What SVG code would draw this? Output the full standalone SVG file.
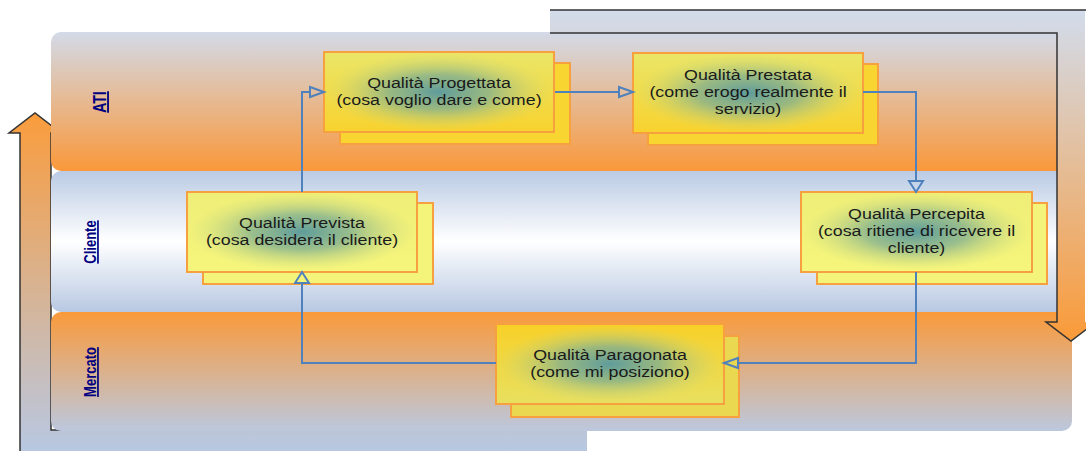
<svg xmlns="http://www.w3.org/2000/svg" width="1086" height="451" viewBox="0 0 1086 451">
<defs>
<style>
.lane-label{font-family:"Liberation Sans",Arial,sans-serif;font-weight:bold;fill:#000080;text-decoration:underline;text-anchor:middle}
.t{font-family:"Liberation Sans",Arial,sans-serif;font-size:15px;fill:#1a1a1a;text-anchor:middle}
.box{stroke:#F7A040;stroke-width:2}
.conn{fill:none;stroke:#4F81BD;stroke-width:2}
.edge{fill:none;stroke:#333;stroke-width:1.5}
</style>
<linearGradient id="gATI" x1="0" y1="0" x2="0" y2="1">
<stop offset="0" stop-color="#D3DAE8"/><stop offset="1" stop-color="#FA983A"/>
</linearGradient>
<linearGradient id="gCli" x1="0" y1="0" x2="0" y2="1">
<stop offset="0" stop-color="#BACBE4"/><stop offset="0.5" stop-color="#FFFFFF"/><stop offset="1" stop-color="#B8C8E2"/>
</linearGradient>
<linearGradient id="gMer" x1="0" y1="0" x2="0" y2="1">
<stop offset="0" stop-color="#FA9A3A"/><stop offset="1" stop-color="#BCC8DE"/>
</linearGradient>
<linearGradient id="gRightArrow" gradientUnits="userSpaceOnUse" x1="0" y1="10" x2="0" y2="341">
<stop offset="0" stop-color="#D2DCEC"/><stop offset="1" stop-color="#FA9A38"/>
</linearGradient>
<linearGradient id="gLeftArrow" gradientUnits="userSpaceOnUse" x1="0" y1="113" x2="0" y2="451">
<stop offset="0" stop-color="#FA9C3C"/><stop offset="1" stop-color="#B8C8E2"/>
</linearGradient>
<linearGradient id="gGold" x1="0" y1="0" x2="0" y2="1">
<stop offset="0" stop-color="#EAE668"/><stop offset="1" stop-color="#F8D22E"/>
</linearGradient>
<linearGradient id="gLight" x1="0" y1="0" x2="0" y2="1">
<stop offset="0" stop-color="#EEEE78"/><stop offset="1" stop-color="#F6F67C"/>
</linearGradient>
<linearGradient id="gMerBox" x1="0" y1="0" x2="0" y2="1">
<stop offset="0" stop-color="#F8D028"/><stop offset="1" stop-color="#E8E060"/>
</linearGradient>
<radialGradient id="gCore" cx="0.5" cy="0.5" r="0.5">
<stop offset="0" stop-color="#5E9C9C" stop-opacity="1"/>
<stop offset="0.45" stop-color="#7EAE92" stop-opacity="0.75"/>
<stop offset="1" stop-color="#C8D880" stop-opacity="0"/>
</radialGradient>
<marker id="ah" markerUnits="userSpaceOnUse" markerWidth="16" markerHeight="12" refX="0" refY="6" orient="auto" overflow="visible">
<path d="M0,1 L14,6 L0,11 Z" fill="none" stroke="#4F81BD" stroke-width="2"/>
</marker>
<marker id="av" markerUnits="userSpaceOnUse" markerWidth="14" markerHeight="16" refX="0" refY="7" orient="auto" overflow="visible">
<path d="M0,0 L11,7 L0,14 Z" fill="none" stroke="#4F81BD" stroke-width="2"/>
</marker>
</defs>

<g id="left-arrow">
<path d="M20,460 V133 H9 L35,113 L61,133 H51 V430 H587 V460 Z" fill="url(#gLeftArrow)"/>
<path d="M20,460 V133 H9 L35,113 L61,133 H51 V430 H587" class="edge"/>
</g>

<g id="lane-ati">
<rect x="51" y="32" width="1021" height="139" rx="10" fill="url(#gATI)"/>
<text class="lane-label" font-size="14" transform="translate(106,102) scale(1.3,1) rotate(-90)">ATI</text>
</g>
<g id="lane-cliente">
<rect x="51" y="171" width="1021" height="141" rx="10" fill="url(#gCli)"/>
<text class="lane-label" font-size="13" transform="translate(96,242) scale(1.3,1) rotate(-90)">Cliente</text>
</g>
<g id="lane-mercato">
<rect x="51" y="312" width="1021" height="119" rx="10" fill="url(#gMer)"/>
<text class="lane-label" font-size="13" transform="translate(96,372) scale(1.3,1) rotate(-90)">Mercato</text>
</g>

<g id="right-arrow">
<path d="M550,10 H1085 V322 H1096 L1071,341 L1046,322 H1057 V33 H550 Z" fill="url(#gRightArrow)"/>
<path d="M550,10 H1090 M550,33 H1057 V322 H1046 L1071,341 L1096,322" class="edge"/>
</g>

<g id="node-progettata">
<rect x="340" y="63" width="230" height="81" fill="#F8D530" class="box"/>
<rect x="324" y="52" width="230" height="80" fill="url(#gGold)" class="box"/>
<rect x="325" y="53" width="228" height="78" fill="url(#gCore)"/>
<text class="t" transform="translate(439,0) scale(1.19,1)"><tspan x="0" y="88">Qualità Progettata</tspan><tspan x="0" y="105">(cosa voglio dare e come)</tspan></text>
</g>

<g id="node-prestata">
<rect x="648" y="64" width="230" height="81" fill="#F8D530" class="box"/>
<rect x="633" y="53" width="230" height="80" fill="url(#gGold)" class="box"/>
<rect x="634" y="54" width="228" height="78" fill="url(#gCore)"/>
<text class="t" transform="translate(748,0) scale(1.19,1)"><tspan x="0" y="80">Qualità Prestata</tspan><tspan x="0" y="97">(come erogo realmente il</tspan><tspan x="0" y="114">servizio)</tspan></text>
</g>

<g id="node-prevista">
<rect x="203" y="203" width="230" height="81" fill="#F4F37A" class="box"/>
<rect x="187" y="192" width="230" height="80" fill="url(#gLight)" class="box"/>
<rect x="188" y="193" width="228" height="78" fill="url(#gCore)"/>
<text class="t" transform="translate(302,0) scale(1.19,1)"><tspan x="0" y="228">Qualità Prevista</tspan><tspan x="0" y="245">(cosa desidera il cliente)</tspan></text>
</g>

<g id="node-percepita">
<rect x="817" y="203" width="230" height="81" fill="#F4F37A" class="box"/>
<rect x="801" y="192" width="231" height="80" fill="url(#gLight)" class="box"/>
<rect x="802" y="193" width="229" height="78" fill="url(#gCore)"/>
<text class="t" transform="translate(916.5,0) scale(1.19,1)"><tspan x="0" y="219">Qualità Percepita</tspan><tspan x="0" y="236">(cosa ritiene di ricevere il</tspan><tspan x="0" y="253">cliente)</tspan></text>
</g>

<g id="node-paragonata">
<rect x="511" y="336" width="228" height="81" fill="#EAD850" class="box"/>
<rect x="496" y="324" width="228" height="80" fill="url(#gMerBox)" class="box"/>
<rect x="497" y="325" width="226" height="78" fill="url(#gCore)"/>
<text class="t" transform="translate(610,0) scale(1.19,1)"><tspan x="0" y="360">Qualità Paragonata</tspan><tspan x="0" y="377">(come mi posiziono)</tspan></text>
</g>

<g id="connectors">
<path class="conn" d="M302,192 V92 H310" marker-end="url(#ah)"/>
<path class="conn" d="M555,92 H619" marker-end="url(#ah)"/>
<path class="conn" d="M863,92 H916 V181" marker-end="url(#av)"/>
<path class="conn" d="M916,272 V363 H738" marker-end="url(#ah)"/>
<path class="conn" d="M496,363 H302 V283" marker-end="url(#av)"/>
</g>
</svg>
